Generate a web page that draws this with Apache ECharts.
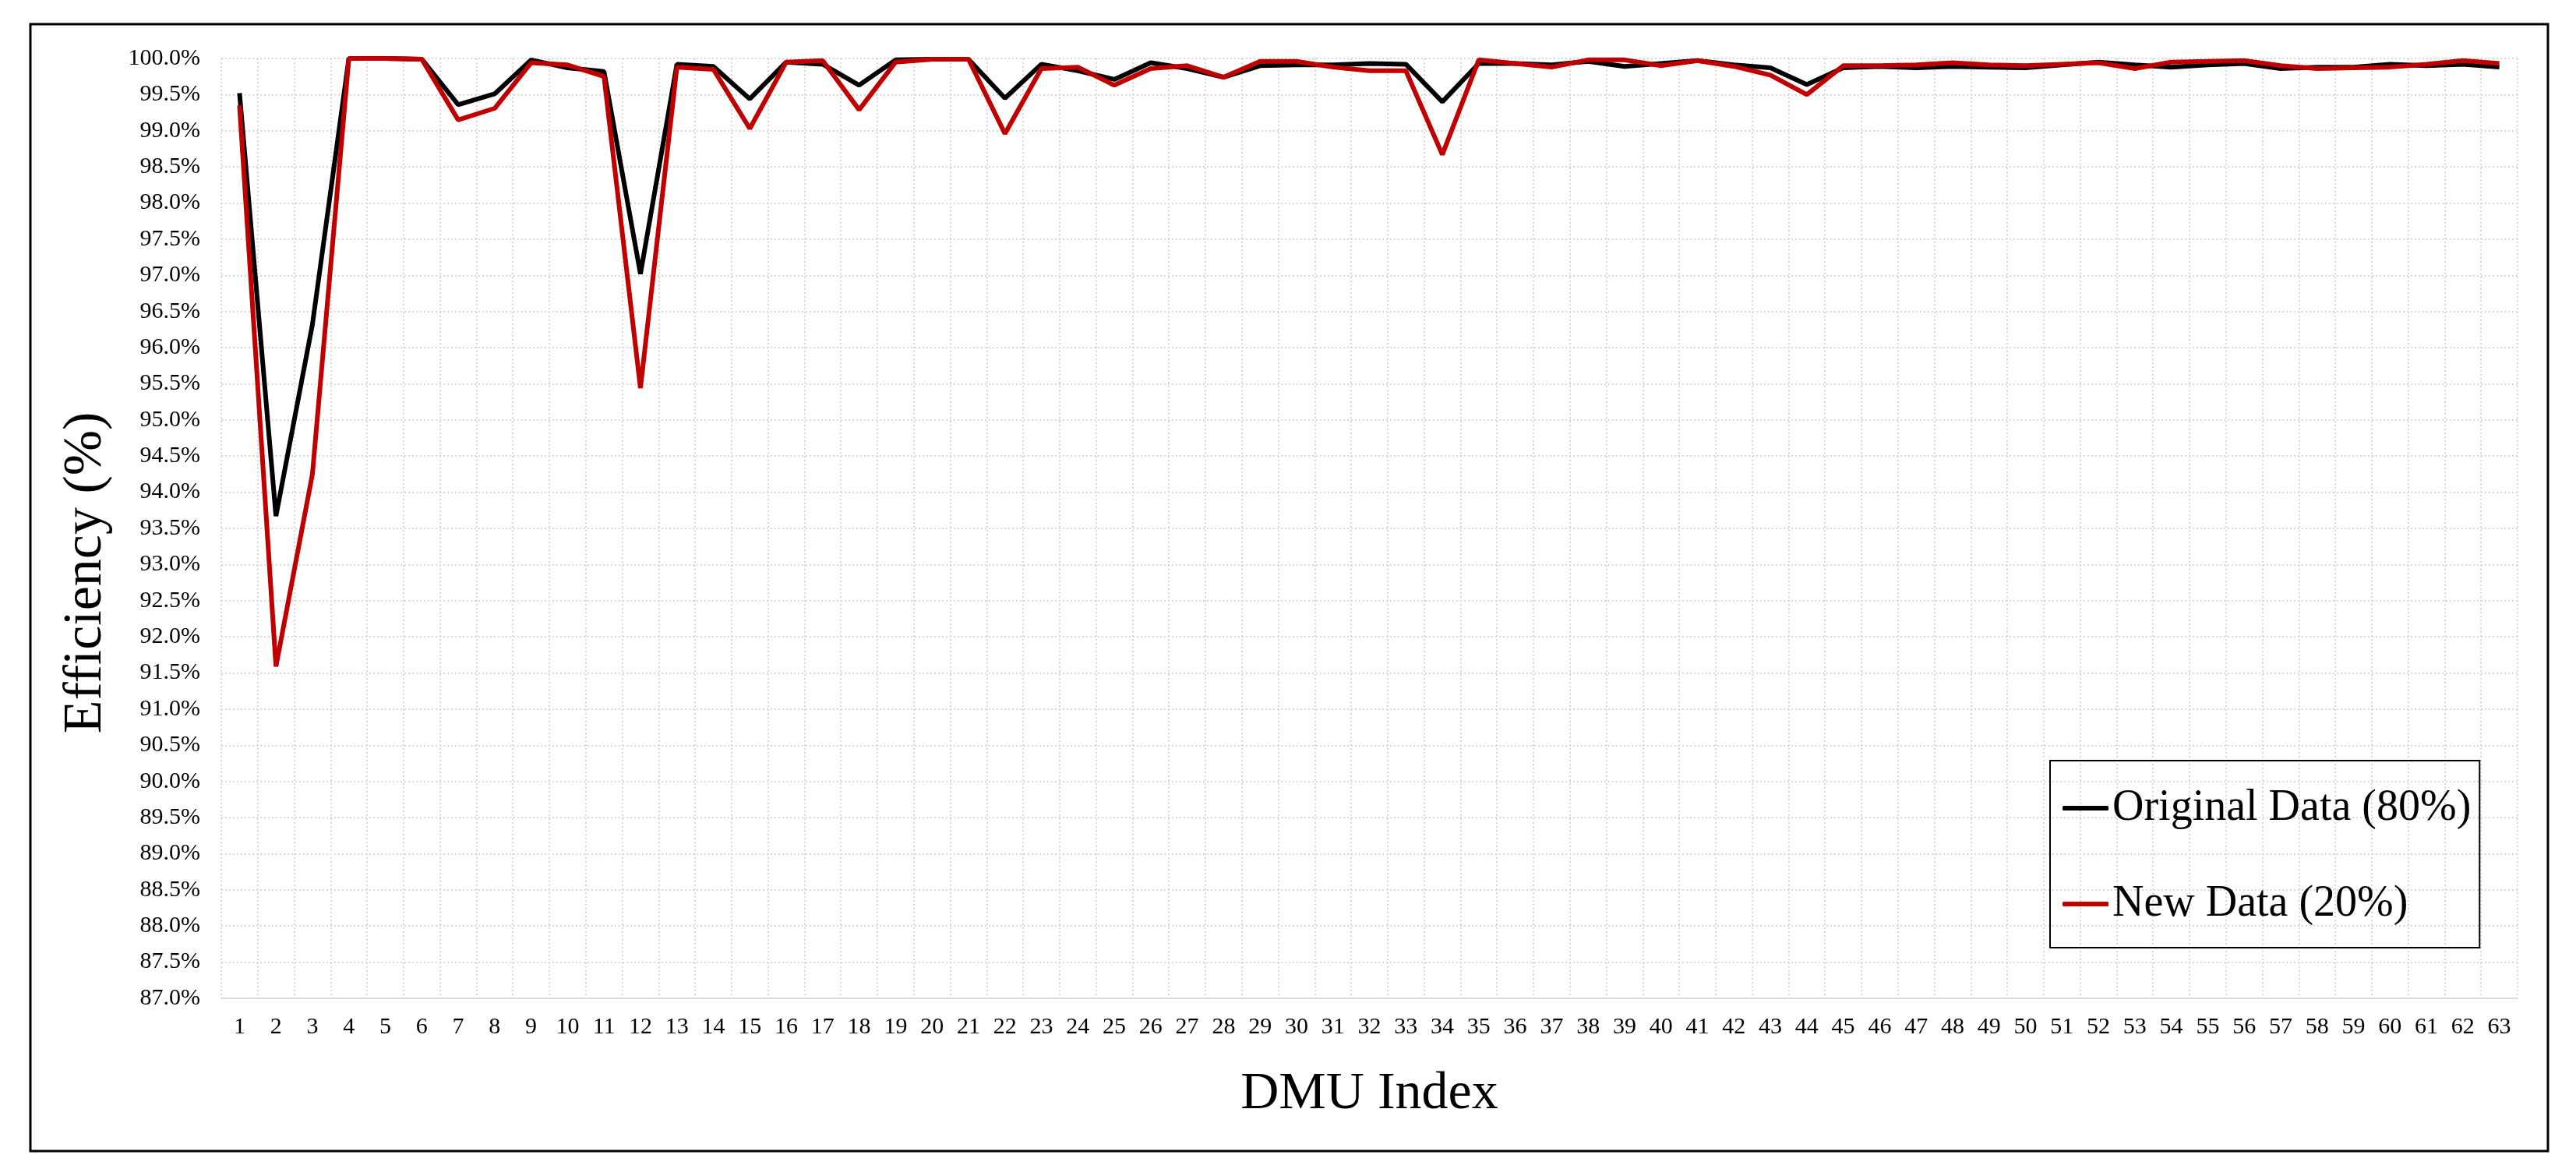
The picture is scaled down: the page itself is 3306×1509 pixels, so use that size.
<!DOCTYPE html>
<html>
<head>
<meta charset="utf-8">
<title>DMU efficiency</title>
<script src="https://cdn.jsdelivr.net/npm/echarts@6/dist/echarts.min.js"></script>
<style>
  html, body { margin: 0; padding: 0; background: #fff; }
  #myChart { width: 3306px; height: 1509px; }
</style>
</head>
<body>
<div id="myChart"></div>
<script>
// DMU index 1..63
const dmuIndex = []
for (let i = 1; i <= 63; i++) dmuIndex.push(String(i))

// efficiency in percent
const originalData = [
  99.52, 93.67, 96.32, 100.00, 100.00, 99.99, 99.36, 99.51, 99.98, 99.87,
  99.82, 97.02, 99.92, 99.89, 99.44, 99.95, 99.92, 99.63, 99.98, 99.99,
  99.99, 99.45, 99.92, 99.83, 99.71, 99.94, 99.86, 99.74, 99.90, 99.91,
  99.91, 99.93, 99.92, 99.40, 99.93, 99.93, 99.91, 99.96, 99.89, 99.93,
  99.97, 99.91, 99.87, 99.64, 99.87, 99.89, 99.87, 99.89, 99.88, 99.87,
  99.91, 99.95, 99.91, 99.88, 99.91, 99.93, 99.86, 99.88, 99.88, 99.92,
  99.90, 99.92, 99.88
]
const newData = [
  99.35, 91.59, 94.25, 100.00, 100.00, 99.99, 99.15, 99.31, 99.94, 99.91,
  99.75, 95.44, 99.88, 99.85, 99.03, 99.95, 99.97, 99.29, 99.95, 99.99,
  99.99, 98.96, 99.86, 99.88, 99.63, 99.86, 99.90, 99.74, 99.96, 99.96,
  99.88, 99.83, 99.83, 98.67, 99.98, 99.93, 99.88, 99.98, 99.98, 99.90,
  99.97, 99.89, 99.77, 99.50, 99.90, 99.90, 99.91, 99.94, 99.91, 99.90,
  99.92, 99.94, 99.86, 99.95, 99.96, 99.97, 99.90, 99.86, 99.87, 99.88,
  99.92, 99.97, 99.93
]
const seriesNames = ['Original Data (80%)', 'New Data (20%)']

const font = '"Times New Roman", "Liberation Serif", serif'
const gridLine = { color: '#d9d9d9', width: 2, type: [2, 3] }

let myChart = echarts.init(document.getElementById('myChart'))
myChart.setOption({
  backgroundColor: '#fff',
  animation: false,
  grid: { left: 284, right: 75, top: 75, bottom: 228, containLabel: false },
  legend: {
    orient: 'vertical',
    left: 2631,
    top: 976,
    padding: [33, 11, 28, 16],
    itemGap: 67,
    itemWidth: 59,
    itemHeight: 6,
    icon: 'roundRect',
    borderColor: '#000',
    borderWidth: 2,
    data: seriesNames,
    textStyle: { fontFamily: font, fontSize: 56, lineHeight: 56, color: '#000' }
  },
  xAxis: {
    type: 'category',
    data: dmuIndex,
    boundaryGap: true,
    name: 'DMU Index',
    nameLocation: 'middle',
    nameGap: 123,
    nameTextStyle: { fontFamily: font, fontSize: 68, color: '#000', verticalAlign: 'middle' },
    axisLine: { show: true, lineStyle: { color: '#d9d9d9', width: 2 } },
    axisTick: { show: false },
    axisLabel: { interval: 0, margin: 22, fontFamily: font, fontSize: 30, color: '#000' },
    splitLine: { show: true, interval: 0, lineStyle: gridLine }
  },
  yAxis: {
    type: 'value',
    min: 87,
    max: 100,
    interval: 0.5,
    axisLine: { show: false },
    axisTick: { show: false },
    axisLabel: {
      margin: 27,
      fontFamily: font,
      fontSize: 30,
      color: '#000',
      formatter: function (v) { return v.toFixed(1) + '%' }
    },
    splitLine: { show: true, lineStyle: gridLine }
  },
  series: [
    {
      name: seriesNames[0],
      type: 'line',
      data: originalData,
      symbol: 'none',
      lineStyle: { color: '#000', width: 6 },
      itemStyle: { color: '#000' }
    },
    {
      name: seriesNames[1],
      type: 'line',
      data: newData,
      symbol: 'none',
      lineStyle: { color: '#c00000', width: 6 },
      itemStyle: { color: '#c00000' }
    }
  ],
  graphic: [
    {
      type: 'rect',
      shape: { x: 39, y: 31, width: 3231, height: 1446 },
      style: { fill: 'none', stroke: '#000', lineWidth: 3 },
      silent: true
    },
    {
      type: 'text',
      x: 111,
      y: 735,
      rotation: Math.PI / 2,
      style: {
        text: 'Efficiency (%)',
        fontFamily: font,
        fontSize: 70,
        fill: '#000',
        align: 'center',
        verticalAlign: 'middle'
      }
    }
  ]
})
</script>
</body>
</html>
